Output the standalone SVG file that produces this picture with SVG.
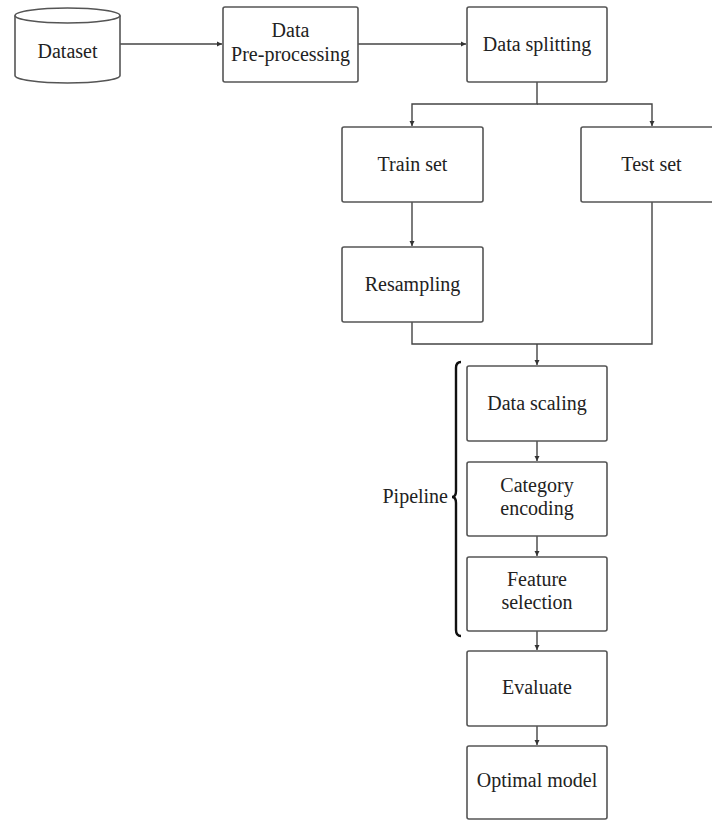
<svg xmlns="http://www.w3.org/2000/svg" width="712" height="820" viewBox="0 0 712 820">
<style>
.box{fill:#fff;stroke:#555;stroke-width:1.6}
.t{font-family:"Liberation Serif","Times New Roman",serif;font-size:20px;fill:#222;text-anchor:middle}
.c{fill:none;stroke:#444;stroke-width:1.4}
</style>
<defs>
<marker id="ah" markerWidth="6" markerHeight="6" refX="5" refY="3" orient="auto" markerUnits="userSpaceOnUse">
<path d="M0,0.5 L5,3 L0,5.5 Z" fill="#333"/>
</marker>
</defs>
<rect width="712" height="820" fill="#fff"/>
<g id="connectors">
<path class="c" d="M120,44 H222" marker-end="url(#ah)"/>
<path class="c" d="M358,44 H466" marker-end="url(#ah)"/>
<path class="c" d="M537,82 V104 H412 V126" marker-end="url(#ah)"/>
<path class="c" d="M537,104 H652 V126" marker-end="url(#ah)"/>
<path class="c" d="M412,202 V246" marker-end="url(#ah)"/>
<path class="c" d="M412,322 V344 H652 V202"/>
<path class="c" d="M537,344 V365" marker-end="url(#ah)"/>
<path class="c" d="M537,441 V461" marker-end="url(#ah)"/>
<path class="c" d="M537,536 V556" marker-end="url(#ah)"/>
<path class="c" d="M537,631 V650" marker-end="url(#ah)"/>
<path class="c" d="M537,726 V745" marker-end="url(#ah)"/>
</g>
<g id="dataset">
<path class="box" d="M15,15.5 V75.5 A52.5,7.5 0 0 0 120,75.5 V15.5"/>
<ellipse class="box" cx="67.5" cy="15.5" rx="52.5" ry="7.5"/>
<text class="t" x="67.5" y="58">Dataset</text>
</g>
<g id="preprocessing">
<rect class="box" x="223" y="7" width="135" height="75" rx="2"/>
<text class="t" x="290.5" y="37">Data</text>
<text class="t" x="290.5" y="61">Pre-processing</text>
</g>
<g id="splitting">
<rect class="box" x="467" y="7" width="140" height="75" rx="2"/>
<text class="t" x="537" y="51">Data splitting</text>
</g>
<g id="trainset">
<rect class="box" x="342" y="127" width="141" height="75" rx="2"/>
<text class="t" x="412.5" y="171">Train set</text>
</g>
<g id="testset">
<rect class="box" x="581" y="127" width="141" height="75" rx="2"/>
<text class="t" x="651.5" y="171">Test set</text>
</g>
<g id="resampling">
<rect class="box" x="342" y="247" width="141" height="75" rx="2"/>
<text class="t" x="412.5" y="291">Resampling</text>
</g>
<g id="pipeline">
<path d="M461,362 Q456,362 456,368 V491 Q456,497 452,497 Q456,497 456,503 V630 Q456,636 461,636" fill="none" stroke="#111" stroke-width="2.4"/>
<text class="t" x="448" y="503" style="text-anchor:end">Pipeline</text>
</g>
<g id="scaling">
<rect class="box" x="467" y="366" width="140" height="75" rx="2"/>
<text class="t" x="537" y="410">Data scaling</text>
</g>
<g id="encoding">
<rect class="box" x="467" y="462" width="140" height="74" rx="2"/>
<text class="t" x="537" y="492">Category</text>
<text class="t" x="537" y="515">encoding</text>
</g>
<g id="selection">
<rect class="box" x="467" y="557" width="140" height="74" rx="2"/>
<text class="t" x="537" y="586">Feature</text>
<text class="t" x="537" y="609">selection</text>
</g>
<g id="evaluate">
<rect class="box" x="467" y="651" width="140" height="75" rx="2"/>
<text class="t" x="537" y="694">Evaluate</text>
</g>
<g id="optimal">
<rect class="box" x="467" y="746" width="140" height="73" rx="2"/>
<text class="t" x="537" y="787">Optimal model</text>
</g>
</svg>
